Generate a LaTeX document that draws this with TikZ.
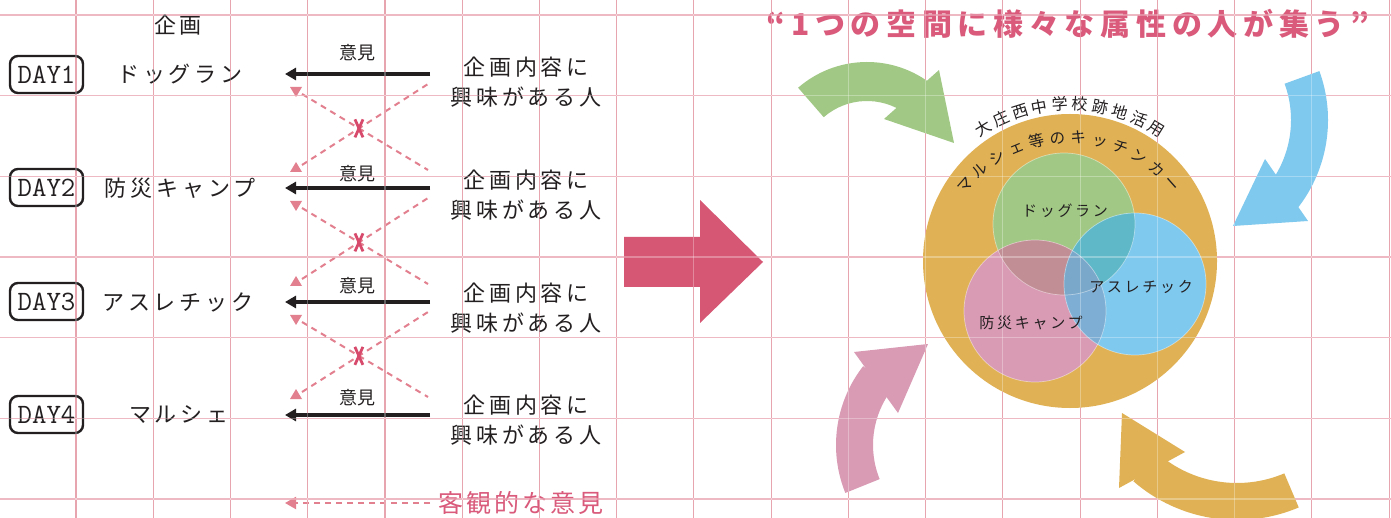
\documentclass[tikz,border=0pt]{standalone}
\usepackage{fontspec}
\usepackage{graphicx}
\setmainfont{Noto Sans CJK JP}
\newfontfamily\jp{Noto Sans CJK JP}
\newfontfamily\jpsp[LetterSpace=18]{Noto Sans CJK JP}
\newfontfamily\jpti[LetterSpace=19]{Noto Sans CJK JP}
\newfontfamily\jplg[LetterSpace=12]{Noto Sans CJK JP}
\usetikzlibrary{arrows.meta,calc}
\definecolor{gridV}{HTML}{DE7F8F}
\definecolor{gridH}{HTML}{E79BA8}
\definecolor{ink}{HTML}{231F20}
\definecolor{dashPink}{HTML}{E3808F}
\definecolor{xRed}{HTML}{D84A6C}
\definecolor{titlePink}{HTML}{D95A7B}
\definecolor{bigArrow}{HTML}{D65774}
\definecolor{orangeC}{HTML}{E0B255}
\definecolor{greenC}{HTML}{A1C985}
\definecolor{pinkC}{HTML}{D99BB4}
\definecolor{blueC}{HTML}{7FC8EE}
\definecolor{gpC}{HTML}{C28E96}
\definecolor{gbC}{HTML}{5FB8C8}
\definecolor{pbC}{HTML}{7EAED4}
\definecolor{gpbC}{HTML}{7AA8CA}
\tikzset{
  gridv/.style={draw=gridV, line width=1.1pt},
  gridh/.style={draw=gridH, line width=1.1pt},
  gridover/.style={draw=white, opacity=0.3, line width=1.1pt},
  daybox/.style={draw=ink, line width=2.4pt, rounded corners=8pt, minimum width=73pt, minimum height=37pt, inner sep=0pt, font=\ttfamily\fontsize{28}{30}\selectfont, text=ink},
  plan/.style={inner sep=0pt, text=ink, font=\jpsp\fontsize{22}{26}\selectfont},
  person/.style={inner sep=0pt, text=ink, align=center, font=\jpsp\fontsize{22}{30}\selectfont},
  iken/.style={inner sep=0pt, text=ink, font=\jp\fontsize{18}{20}\selectfont},
  opinion/.style={draw=ink, line width=3.5pt, -{Triangle[length=11pt,width=12pt]}},
  dashline/.style={draw=dashPink, line width=2pt, dash pattern=on 6pt off 5pt},
  xmark/.style={draw=xRed, line width=2.8pt},
  legendtext/.style={inner sep=0pt, text=titlePink, font=\jplg\fontsize{25}{28}\selectfont},
  titletext/.style={inner sep=0pt, text=titlePink, font=\jpti\bfseries\fontsize{30}{34}\selectfont},
  venn/.style={inner sep=0pt, text=ink, font=\jpsp\fontsize{15}{18}\selectfont},
  curv/.style={inner sep=0pt, anchor=base, text=ink, font=\jp\fontsize{16}{18}\selectfont},
  curvb/.style={inner sep=0pt, anchor=base, text=ink, font=\jp\fontsize{15.5}{18}\selectfont},
  rim/.style={draw=white, draw opacity=0.45, line width=0.7pt},
}
\begin{document}
\begin{tikzpicture}[x=1pt,y=1pt]
\useasboundingbox (0,0) rectangle (1391,-518);
\fill[white] (0,0) rectangle (1391,-518);
% grid
\foreach \k in {0,...,17} \draw[gridv] ({76+\k*77.24},0) -- ({76+\k*77.24},-518);
\foreach \k in {0,...,6} \draw[gridh] (0,{-15-\k*80.67}) -- (1391,{-15-\k*80.67});

% ---------- left part ----------
\node[plan] (kikaku) at (178,-25) {企画};

\node[daybox] (day1) at (46.5,-74.5) {DAY1};
\node[daybox] (day2) at (46.5,-187.5) {DAY2};
\node[daybox] (day3) at (46.5,-301.5) {DAY3};
\node[daybox] (day4) at (46.5,-414.5) {DAY4};

\node[plan] (plan1) at (180,-74) {ドッグラン};
\node[plan] (plan2) at (180,-188) {防災キャンプ};
\node[plan] (plan3) at (178,-302) {アスレチック};
\node[plan] (plan4) at (179,-415) {マルシェ};

\node[person] (pers1) at (526,-82) {企画内容に\\興味がある人};
\node[person] (pers2) at (526,-195) {企画内容に\\興味がある人};
\node[person] (pers3) at (526,-308) {企画内容に\\興味がある人};
\node[person] (pers4) at (526,-420) {企画内容に\\興味がある人};

\node[iken] (iken1) at (357,-53) {意見};
\node[iken] (iken2) at (357,-174) {意見};
\node[iken] (iken3) at (357,-286) {意見};
\node[iken] (iken4) at (357,-398) {意見};

\foreach \y/\n in {74/1,188/2,302/3,415/4}{
  \coordinate (as\n) at (430,-\y);
  \coordinate (ae\n) at (285,-\y);
  \draw[opinion] (as\n) -- (ae\n);
}

\foreach \a/\b/\n in {74/188/1, 188/302/2, 302/415/3}{
  \coordinate (ul\n) at (302,{-(\a+20)});
  \coordinate (lr\n) at (428,{-(\b-18)});
  \coordinate (ll\n) at (302,{-(\b-23)});
  \coordinate (ur\n) at (428,{-(\a+10)});
  \draw[dashline] (ul\n) -- (lr\n);
  \draw[dashline] (ll\n) -- (ur\n);
  \fill[dashPink] (290,{-(\a+13)}) -- (302,{-(\a+13)}) -- (296,{-(\a+23)}) -- cycle;
  \fill[dashPink] (290,{-(\b-16)}) -- (302,{-(\b-16)}) -- (296,{-(\b-26)}) -- cycle;
  \coordinate (xc\n) at ($(ul\n)!{(\b-\a-43)/(2*(\b-\a)-71)}!(lr\n)$);
  \draw[xmark] ($(xc\n)+(-4,9)$) -- ($(xc\n)+(4,-9)$);
  \draw[xmark] ($(xc\n)+(4,9)$) -- ($(xc\n)+(-4,-9)$);
}

\coordinate (lgs) at (430,-503);
\coordinate (lge) at (285,-503);
\draw[dashline, -{Triangle[length=11pt,width=12pt]}] (lgs) -- (lge);
\node[legendtext] (legend) at (521,-503) {客観的な意見};

% ---------- big arrow ----------
\fill[bigArrow] (624,-237) -- (700,-237) -- (700,-200) -- (763,-262) -- (700,-323) -- (700,-287) -- (624,-287) -- cycle;

% ---------- title ----------
\node[titletext] (title) at (1068,-24) {“1つの空間に様々な属性の人が集う”};

% ---------- curved arrows ----------
\coordinate (cg) at (867,-167);
\fill[greenC] ($(cg)+(131:105)$) arc[start angle=131, end angle=54, radius=105] -- ($(cg)+(54:66)$) arc[start angle=54, end angle=131, radius=66] -- cycle;
\fill[greenC] (939,-70) -- (954,-143) -- (884,-119) -- cycle;

\coordinate (cb) at (1185,-120);
\fill[blueC] ($(cb)+(20:143)$) arc[start angle=20, end angle=-38, radius=143] -- ($(cb)+(-38:106)$) arc[start angle=-38, end angle=20, radius=106] -- cycle;
\fill[blueC] (1265,-159) -- (1308,-221) -- (1233,-226) -- cycle;

\coordinate (cp) at (964,-445);
\fill[pinkC] ($(cp)+(202:128)$) arc[start angle=202, end angle=142, radius=128] -- ($(cp)+(142:91)$) arc[start angle=142, end angle=202, radius=91] -- cycle;
\fill[pinkC] (854,-352) -- (928,-344) -- (898,-413) -- cycle;

\coordinate (co) at (1237,-362);
\fill[orangeC] ($(co)+(-67:158)$) arc[start angle=-67, end angle=-131, radius=158] -- ($(co)+(-131:121)$) arc[start angle=-131, end angle=-67, radius=121] -- cycle;
\fill[orangeC] (1122,-413) -- (1185,-452) -- (1119,-488) -- cycle;

% ---------- venn ----------
\coordinate (vo) at (1070,-261);
\coordinate (vG) at (1064,-224);
\coordinate (vP) at (1035,-311);
\coordinate (vB) at (1135,-284);
\fill[orangeC] (vo) circle (147);
\fill[greenC] (vG) circle (71);
\fill[pinkC] (vP) circle (71);
\fill[blueC] (vB) circle (71);
\begin{scope}\clip (vG) circle (71); \fill[gpC] (vP) circle (71);\end{scope}
\begin{scope}\clip (vG) circle (71); \fill[gbC] (vB) circle (71);\end{scope}
\begin{scope}\clip (vP) circle (71); \fill[pbC] (vB) circle (71);\end{scope}
\begin{scope}\clip (vG) circle (71); \clip (vP) circle (71); \fill[gpbC] (vB) circle (71);\end{scope}
\draw[rim] (vG) circle (71);
\draw[rim] (vP) circle (71);
\draw[rim] (vB) circle (71);

\node[venn] (lg) at (1065,-211) {ドッグラン};
\node[venn] (lb) at (1141,-287) {アスレチック};
\node[venn] (lp) at (1031,-323) {防災キャンプ};

\coordinate (octr) at (1070,-270);
\foreach \c [count=\i from 0] in {大,庄,西,中,学,校,跡,地,活,用}
  \node[curv, rotate={31.5-7*\i}] (ot\i) at ($(octr)+({121.5-7*\i}:160)$) {\c};
\coordinate (ictr) at (1069,-275);
\foreach \c [count=\i from 0] in {マ,ル,シ,ェ,等,の,キ,ッ,チ,ン,カ,ー}
  \node[curvb, rotate={49-8.86*\i}] (it\i) at ($(ictr)+({139-8.86*\i}:132)$) {\c};

% grid overlay
\foreach \k in {0,...,17} \draw[gridover] ({76+\k*77.24},0) -- ({76+\k*77.24},-518);
\foreach \k in {0,...,6} \draw[gridover] (0,{-15-\k*80.67}) -- (1391,{-15-\k*80.67});
\end{tikzpicture}
\end{document}
